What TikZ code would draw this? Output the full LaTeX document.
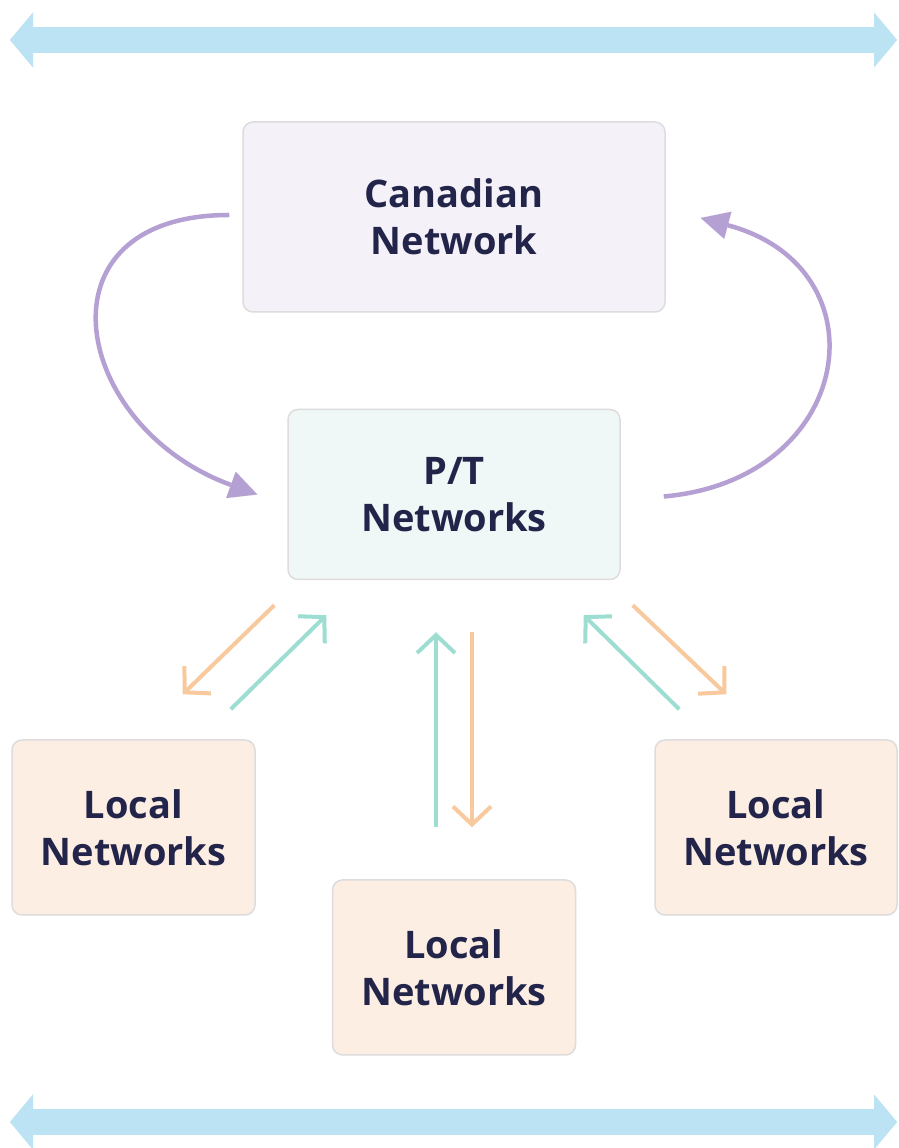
\documentclass[tikz,border=0pt]{standalone}
\usepackage{fontspec}
\setmainfont{Open Sans}
\usetikzlibrary{arrows.meta, positioning}
\definecolor{navytext}{HTML}{22244A}
\definecolor{boxline}{HTML}{DEDCDC}
\definecolor{lavfill}{HTML}{F4F2F8}
\definecolor{mintfill}{HTML}{EFF8F6}
\definecolor{peachfill}{HTML}{FCEEE2}
\definecolor{skyband}{HTML}{BCE3F3}
\definecolor{loopviolet}{HTML}{B5A0D3}
\definecolor{upteal}{HTML}{9EDDD2}
\definecolor{downorange}{HTML}{F7C99C}

\tikzset{
  netbox/.style={draw=boxline, line width=1.5pt, rounded corners=10pt, align=center,
    text=navytext, font=\fontsize{38}{47}\selectfont\bfseries, inner sep=0pt},
  widearrow/.style={draw=skyband, line width=26pt,
    {Triangle[length=23pt,width=55pt,line width=0.01pt]}-{Triangle[length=23pt,width=55pt,line width=0.01pt]}},
  looparrow/.style={draw=loopviolet, line width=4.5pt,
    -{Triangle[length=28pt,width=28pt,line width=0.01pt]}},
  uparrow/.style={draw=upteal, line width=4pt, -{Straight Barb[length=18pt,width=38pt]}},
  downarrow/.style={draw=downorange, line width=4pt, -{Straight Barb[length=18pt,width=38pt]}}
}

\begin{document}
\begin{tikzpicture}[x=1pt, y=1pt]
\fill[white] (0,0) rectangle (899,1148);
\useasboundingbox (0,0) rectangle (899,1148);

% boxes
\node[netbox, fill=lavfill, minimum width=422pt, minimum height=190pt] (can) at (454,931) {Canadian\\Network};
\node[netbox, fill=mintfill, minimum width=332pt, minimum height=170pt, below=96pt of can] (pt) {P/T\\Networks};
\node[netbox, fill=peachfill, minimum width=243pt, minimum height=175pt, below=299pt of pt] (locC) {Local\\Networks};
\node[netbox, fill=peachfill, minimum width=243pt, minimum height=175pt] (locL) at (133.5,320.5) {Local\\Networks};
\node[netbox, fill=peachfill, minimum width=242pt, minimum height=175pt] (locR) at (776,320.5) {Local\\Networks};

% top and bottom bands
\coordinate (topL) at (10,1108);
\coordinate (topR) at (897,1108);
\coordinate (botL) at (10,26);
\coordinate (botR) at (897,26);
\draw[widearrow] (topL) -- (topR);
\draw[widearrow] (botL) -- (botR);

% loops
\draw[looparrow] ([xshift=-13pt,yshift=2pt]can.west) to[out=180, in=160, looseness=1.8] ([xshift=-30pt]pt.west);
\draw[looparrow] ([xshift=43pt,yshift=-2pt]pt.east) to[out=5, in=345, looseness=1.75] ([xshift=35pt,yshift=-1pt]can.east);

% P/T <-> local
\draw[downarrow] ([xshift=-13pt,yshift=-25pt]pt.south west) -- ([xshift=-73pt,yshift=45pt]locL.north east);
\draw[uparrow] ([xshift=-25pt,yshift=30pt]locL.north east) -- ([xshift=39pt,yshift=-35pt]pt.south west);
\draw[uparrow] ([xshift=-18pt,yshift=52pt]locC.north) -- ([xshift=-18pt,yshift=-52pt]pt.south);
\draw[downarrow] ([xshift=18pt,yshift=-52pt]pt.south) -- ([xshift=18pt,yshift=52pt]locC.north);
\draw[uparrow] ([xshift=25pt,yshift=30pt]locR.north west) -- ([xshift=-37pt,yshift=-35pt]pt.south east);
\draw[downarrow] ([xshift=12pt,yshift=-25pt]pt.south east) -- ([xshift=72pt,yshift=45pt]locR.north west);
\end{tikzpicture}
\end{document}
